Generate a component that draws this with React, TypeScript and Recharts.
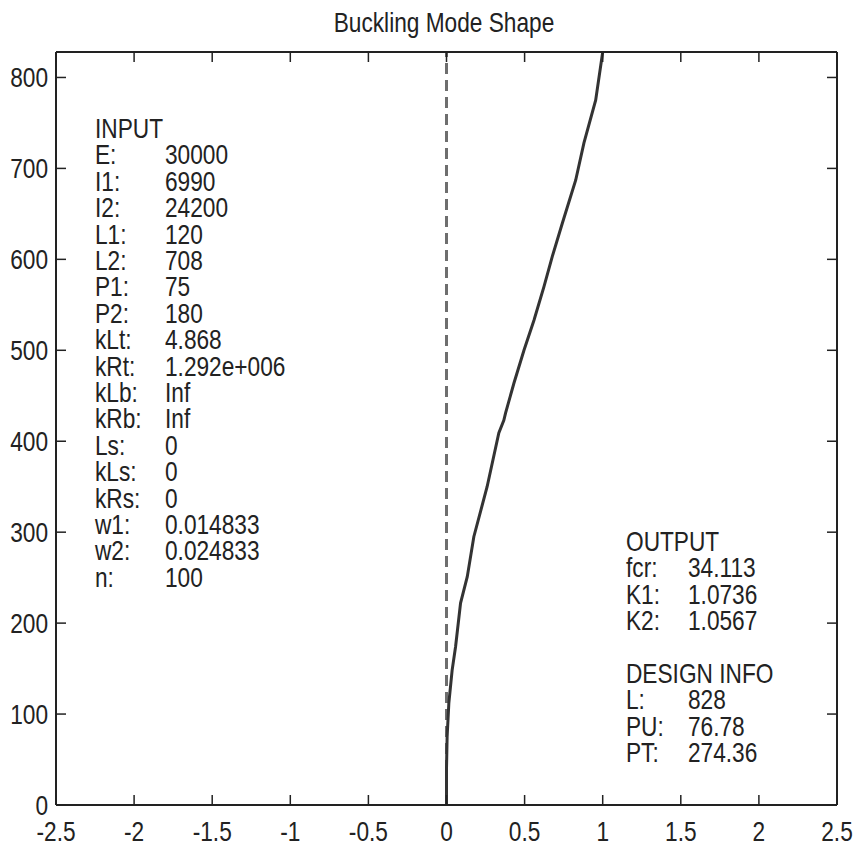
import React from 'react'
import { LineChart, Line, XAxis, YAxis } from 'recharts'

const xTicks = [-2.5, -2, -1.5, -1, -0.5, 0, 0.5, 1, 1.5, 2, 2.5]
const yTicks = [0, 100, 200, 300, 400, 500, 600, 700, 800]

// mode shape: height along the member vs lateral deflection
const heights = [0, 40, 75, 112, 148, 174, 222, 251, 295, 350, 409, 423, 431, 464, 500, 533, 570, 603, 640, 687, 728, 775, 828]
const deflections = [0, 0, 0.004, 0.015, 0.036, 0.058, 0.09, 0.133, 0.175, 0.26, 0.335, 0.367, 0.378, 0.432, 0.496, 0.56, 0.624, 0.677, 0.742, 0.827, 0.88, 0.955, 1]

const inputLabels = ['E:', 'I1:', 'I2:', 'L1:', 'L2:', 'P1:', 'P2:', 'kLt:', 'kRt:', 'kLb:', 'kRb:', 'Ls:', 'kLs:', 'kRs:', 'w1:', 'w2:', 'n:']
const inputValues = ['30000', '6990', '24200', '120', '708', '75', '180', '4.868', '1.292e+006', 'Inf', 'Inf', '0', '0', '0', '0.014833', '0.024833', '100']
const outputLabels = ['fcr:', 'K1:', 'K2:']
const outputValues = ['34.113', '1.0736', '1.0567']
const designLabels = ['L:', 'PU:', 'PT:']
const designValues = ['828', '76.78', '274.36']

const W = 855
const H = 844
const FONT = '"Liberation Sans", Arial, sans-serif'
const FS = 28
const SX = 0.81 // squeeze to mimic the condensed face of the original
const INK = '#222'
const LINE_H = 26.4

const curve = heights.map((y, i) => ({ x: deflections[i], y }))
const zeroLine = [{ x: 0, y: 0 }, { x: 0, y: heights[heights.length - 1] }]

// narrow text: scale horizontally around its anchor point
function NText({ x, y, anchor = 'start', children }: { x: number; y: number; anchor?: 'start' | 'middle' | 'end'; children: React.ReactNode }) {
  return (
    <text transform={`translate(${x} ${y}) scale(${SX} 1)`} textAnchor={anchor}
      fontFamily={FONT} fontSize={FS} fill={INK}>{children}</text>
  )
}

function BottomTick(props: any) {
  const { x, y, payload } = props
  return (
    <g>
      <line x1={x} y1={y} x2={x} y2={y - 10} stroke={INK} strokeWidth={1.5} />
      <NText x={x} y={y + 36} anchor="middle">{payload.value}</NText>
    </g>
  )
}

function TopTick(props: any) {
  const { x, y } = props
  return <line x1={x} y1={y} x2={x} y2={y + 10} stroke={INK} strokeWidth={1.5} />
}

function LeftTick(props: any) {
  const { x, y, payload } = props
  return (
    <g>
      <line x1={x} y1={y} x2={x + 10} y2={y} stroke={INK} strokeWidth={1.5} />
      <NText x={x - 8} y={y + 10} anchor="end">{payload.value}</NText>
    </g>
  )
}

function RightTick(props: any) {
  const { x, y } = props
  return <line x1={x} y1={y} x2={x - 10} y2={y} stroke={INK} strokeWidth={1.5} />
}

function TextBlock({ title, labels, values, x, valueX, y }: { title: string; labels: string[]; values: string[]; x: number; valueX: number; y: number }) {
  return (
    <g>
      <NText x={x} y={y}>{title}</NText>
      {labels.map((l, i) => (
        <g key={l}>
          <NText x={x} y={y + (i + 1) * LINE_H}>{l}</NText>
          <NText x={valueX} y={y + (i + 1) * LINE_H}>{values[i]}</NText>
        </g>
      ))}
    </g>
  )
}

export default function App() {
  const axisLine = { stroke: INK, strokeWidth: 2 }
  return (
    <div style={{ position: 'absolute', left: 0, top: 0, width: W, height: H, background: '#fff' }}>
      <LineChart width={W} height={H} data={curve} margin={{ top: 51, right: 17, bottom: 0, left: 0 }}>
        <XAxis xAxisId="b" dataKey="x" type="number" domain={[-2.5, 2.5]} ticks={xTicks} allowDataOverflow
          height={39} axisLine={axisLine} tickLine={false} tickSize={0} tickMargin={0} tick={<BottomTick />} />
        <XAxis xAxisId="t" dataKey="x" orientation="top" type="number" domain={[-2.5, 2.5]} ticks={xTicks} allowDataOverflow
          height={1} axisLine={axisLine} tickLine={false} tickSize={0} tickMargin={0} tick={<TopTick />} />
        <YAxis yAxisId="l" dataKey="y" type="number" domain={[0, 828]} ticks={yTicks} allowDataOverflow
          width={56} axisLine={axisLine} tickLine={false} tickSize={0} tickMargin={0} tick={<LeftTick />} />
        <YAxis yAxisId="r" dataKey="y" orientation="right" type="number" domain={[0, 828]} ticks={yTicks} allowDataOverflow
          width={1} axisLine={axisLine} tickLine={false} tickSize={0} tickMargin={0} tick={<RightTick />} />
        <Line xAxisId="t" yAxisId="r" data={zeroLine} dataKey="y" type="linear" stroke="none"
          dot={false} activeDot={false} isAnimationActive={false} />
        <Line xAxisId="b" yAxisId="l" data={zeroLine} dataKey="y" type="linear" stroke="#6e6e6e" strokeWidth={3}
          strokeDasharray="11 6" dot={false} activeDot={false} isAnimationActive={false} />
        <Line xAxisId="b" yAxisId="l" data={curve} dataKey="y" type="linear" stroke="#333" strokeWidth={3}
          dot={false} activeDot={false} isAnimationActive={false} />
      </LineChart>
      <svg width={W} height={H} style={{ position: 'absolute', left: 0, top: 0, pointerEvents: 'none' }}>
        <NText x={444} y={32} anchor="middle">Buckling Mode Shape</NText>
        <TextBlock title="INPUT" labels={inputLabels} values={inputValues} x={95} valueX={165} y={138} />
        <TextBlock title="OUTPUT" labels={outputLabels} values={outputValues} x={626} valueX={688} y={551} />
        <TextBlock title="DESIGN INFO" labels={designLabels} values={designValues} x={626} valueX={688} y={551 + 5 * LINE_H} />
      </svg>
    </div>
  )
}
